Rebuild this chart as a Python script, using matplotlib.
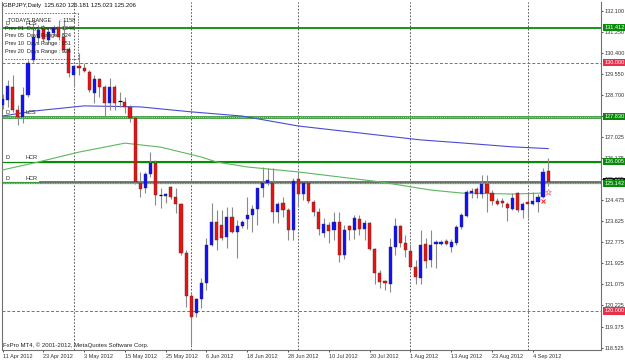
import numpy as np
import matplotlib.pyplot as plt
from matplotlib.transforms import blended_transform_factory

plt.rcParams['font.family'] = ['Liberation Sans', 'DejaVu Sans']

# ---- data (GBPJPY daily, 11 Apr 2012 .. 7 Sep 2012) ----
date_idx = [0, 8, 16, 24, 32, 40, 48, 56, 64, 72, 80, 88, 96, 104]
date_labels = ['11 Apr 2012', '23 Apr 2012', '3 May 2012', '15 May 2012', '25 May 2012',
               '6 Jun 2012', '18 Jun 2012', '28 Jun 2012', '10 Jul 2012', '20 Jul 2012',
               '1 Aug 2012', '13 Aug 2012', '23 Aug 2012', '4 Sep 2012']
month_idx = [14, 37, 58, 80, 103]

opens = [128.30, 128.50, 129.02, 128.09, 127.81, 128.70, 130.11, 130.99, 131.36, 130.91,
         131.20, 131.44, 131.03, 130.55, 129.50, 129.87, 129.79, 129.63, 128.78, 129.34,
         129.02, 128.38, 129.02, 128.47, 128.42, 128.22, 127.77, 125.16, 124.95, 125.52,
         125.96, 124.67, 124.65, 124.99, 124.59, 124.31, 122.34, 120.60, 119.92, 120.48,
         121.11, 122.66, 123.60, 123.46, 122.97, 123.77, 123.19, 123.42, 123.70, 123.87,
         124.10, 124.94, 125.14, 125.17, 123.99, 124.35, 124.05, 123.26, 125.30, 124.71,
         125.14, 124.40, 123.99, 123.15, 123.46, 123.26, 123.60, 122.26, 123.42, 123.26,
         123.70, 123.29, 123.53, 122.49, 121.52, 121.22, 121.09, 122.59, 123.42, 122.75,
         122.42, 121.78, 121.32, 122.69, 122.05, 122.69, 122.70, 122.82, 122.56, 122.73,
         123.37, 123.83, 124.76, 124.91, 124.71, 125.11, 124.76, 124.44, 124.44, 124.31,
         124.10, 124.74, 124.07, 124.38, 124.31, 124.38, 124.60, 125.620]
highs = [128.75, 129.30, 129.50, 128.30, 129.02, 130.11, 131.60, 131.52, 131.52, 131.40,
         131.52, 131.72, 131.72, 130.63, 129.91, 130.39, 129.99, 129.71, 129.50, 129.38,
         129.10, 129.38, 129.10, 128.82, 128.62, 128.30, 127.85, 125.60, 125.60, 126.40,
         126.08, 124.95, 124.75, 125.03, 124.95, 124.35, 122.46, 120.77, 120.52, 121.33,
         122.94, 124.34, 124.07, 124.07, 124.20, 124.20, 123.66, 123.66, 124.60, 124.27,
         124.96, 125.81, 125.75, 125.75, 124.40, 124.59, 124.15, 125.36, 125.56, 125.20,
         125.20, 124.47, 124.15, 123.75, 123.60, 124.00, 124.00, 123.46, 123.46, 123.87,
         123.87, 123.66, 123.60, 122.54, 121.65, 121.25, 122.94, 123.75, 123.46, 123.06,
         122.70, 122.05, 123.26, 122.93, 123.26, 122.86, 122.86, 122.89, 122.90, 123.46,
         123.93, 124.87, 124.94, 125.01, 125.48, 125.48, 124.87, 124.55, 124.54, 124.40,
         124.74, 124.80, 124.40, 124.74, 124.80, 124.71, 125.75, 126.181]
lows = [128.15, 128.22, 128.01, 127.49, 127.57, 128.62, 130.03, 130.83, 130.83, 130.83,
        131.12, 130.91, 130.43, 129.43, 129.02, 129.50, 129.63, 128.82, 128.38, 128.62,
        127.77, 128.09, 128.09, 128.22, 127.97, 127.61, 125.12, 124.59, 124.75, 125.40,
        124.27, 124.15, 124.35, 124.51, 123.95, 122.26, 120.16, 118.63, 119.76, 120.12,
        120.85, 122.62, 122.46, 122.86, 122.53, 123.13, 122.12, 123.33, 123.29, 123.19,
        123.46, 124.60, 125.07, 123.53, 123.53, 123.79, 122.86, 122.86, 124.19, 124.47,
        124.35, 123.83, 123.06, 122.98, 122.74, 122.86, 121.99, 122.09, 122.86, 122.90,
        123.06, 122.86, 122.46, 121.09, 120.93, 120.85, 120.78, 122.26, 122.59, 122.19,
        121.74, 121.09, 121.09, 121.72, 121.78, 121.74, 122.66, 122.66, 122.37, 122.66,
        123.29, 123.80, 124.54, 124.54, 124.54, 123.99, 124.27, 124.27, 124.20, 123.64,
        124.07, 124.00, 123.73, 123.73, 124.27, 123.99, 124.54, 125.023]
closes = [128.55, 129.06, 128.09, 127.81, 128.70, 129.99, 131.03, 131.32, 130.95, 131.24,
          131.40, 131.03, 130.51, 129.59, 129.87, 129.79, 129.67, 128.90, 129.34, 129.02,
          128.38, 129.02, 128.38, 128.46, 128.22, 127.77, 125.20, 124.91, 125.52, 125.96,
          124.67, 124.66, 124.71, 124.59, 124.31, 122.34, 120.60, 119.76, 120.48, 121.11,
          122.66, 123.60, 122.86, 122.93, 123.77, 123.19, 123.42, 123.60, 123.87, 124.10,
          124.94, 125.14, 125.27, 123.99, 124.31, 124.05, 123.26, 125.24, 124.71, 125.14,
          124.44, 123.99, 123.29, 123.49, 123.23, 123.60, 122.26, 123.26, 123.26, 123.73,
          123.29, 123.53, 122.49, 121.52, 121.18, 121.11, 122.59, 123.44, 122.75, 122.46,
          121.78, 121.36, 122.66, 122.03, 122.66, 122.79, 122.79, 122.70, 122.79, 123.37,
          123.87, 124.78, 124.84, 124.70, 125.11, 124.76, 124.43, 124.31, 124.34, 124.16,
          124.54, 124.07, 124.31, 124.31, 124.43, 124.58, 125.61, 125.206]

ma_blue_idx = [0, 6, 16, 27, 37, 47, 58, 70, 82, 90, 100, 107]
ma_blue = [127.85, 128.05, 128.26, 128.22, 128.02, 127.85, 127.45, 127.17, 126.89, 126.77, 126.61, 126.54]
ma_green_idx = [0, 7, 15, 24, 31, 39, 42, 48, 58, 74, 84, 90, 100, 106]
ma_green = [125.68, 126.00, 126.40, 126.76, 126.60, 126.20, 126.00, 125.80, 125.60, 125.20,
            124.87, 124.75, 124.71, 124.75]

price_ticks = [132.100, 131.250, 130.400, 129.550, 128.700, 127.850, 127.025, 126.175, 125.325,
               124.475, 123.625, 122.775, 121.925, 121.075, 120.225, 119.375, 118.525]
price_tick_labels = ['%.3f' % p for p in price_ticks]

level_hcs = 131.412
level_lcs = 127.830
level_hcr1 = 126.005
level_hcr2 = 125.142
round_levels = [130.000, 120.000]
bid = 125.206

title = 'GBPJPY,Daily  125.620 126.181 125.023 125.206'
range_lines = ['TODAYS RANGE      : 1158',
               'Prev 01  Days Range : 1248',
               'Prev 05  Days Range : 824',
               'Prev 10  Days Range : 951',
               'Prev 20  Days Range : 924']

# ---- figure ----
W, H = 625, 361
fig = plt.figure(figsize=(W / 100, H / 100), dpi=100)
ax = fig.add_axes([2 / W, (H - 350) / H, 598.7 / W, 348 / H])
ax.set_xlim(-0.1, 117.3)
ax.set_ylim(118.429, 132.444)

o = np.array(opens); h = np.array(highs); l = np.array(lows); c = np.array(closes)
idx = np.arange(len(o))

# month grid
for m in month_idx:
    ax.axvline(m, color='#404040', lw=0.6, ls=(0, (2, 2)), zorder=1)

# levels
ax.axhline(level_hcs, color='#0a8a0a', lw=1.3, zorder=2)
ax.axhline(level_lcs, color='#3a9a3a', lw=2.0, zorder=2)
ax.axhline(level_lcs, color='#a8e6a8', lw=0.7, ls=(0, (1, 1)), zorder=2)
ax.axhline(level_hcr1, color='#0a8a0a', lw=0.9, zorder=2)
ax.plot([7.4, 117.3], [level_hcr1, level_hcr1], color='#0a8a0a', lw=1.5, zorder=2)
ax.axhline(level_hcr2, color='#3a9a3a', lw=1.6, zorder=2)
ax.plot([7.4, 117.3], [bid, bid], color='#6e6e6e', lw=1.3, zorder=2)
ax.axhline(level_hcr2, color='#a8e6a8', lw=0.6, ls=(0, (1, 1)), zorder=2)
for r in round_levels:
    ax.axhline(r, color='#e8404f', lw=0.7, ls=(0, (3, 2)), zorder=2)

# moving averages
ax.plot(ma_blue_idx, ma_blue, color='#4a4ad8', lw=0.8, zorder=3)
ax.plot(ma_green_idx, ma_green, color='#5cb85c', lw=0.8, zorder=3)

# candles
ax.vlines(idx, l, h, color='#8a8a8a', lw=0.8, zorder=4)
doji = np.abs(c - o) < 0.03
up = (c >= o) & ~doji
dn = (c < o) & ~doji
ax.bar(idx[up], (c - o)[up], bottom=o[up], width=0.62, color='#1010ff',
       edgecolor='#303050', lw=0.3, zorder=5)
ax.bar(idx[dn], (o - c)[dn], bottom=c[dn], width=0.62, color='#ee1111',
       edgecolor='#503030', lw=0.3, zorder=5)
ax.hlines(o[doji], idx[doji] - 0.35, idx[doji] + 0.35, color='black', lw=0.9, zorder=5)

# small signal marks near the last bars
ax.plot([107], [124.79], marker='*', ms=4.5, mfc='none', mec='#ff7a8a', mew=0.6, zorder=6)
ax.plot([106], [124.44], marker='x', ms=2.5, color='#ff2020', mew=0.7, zorder=6)

# line captions
fs = 4.0
for lev, name in [(level_hcs, 'HCS'), (level_lcs, 'LCS'), (level_hcr1, 'HCR'), (level_hcr2, 'HCR')]:
    ax.text(0.5, lev + 0.08, 'D', fontsize=fs, color='#222222', va='bottom', zorder=7)
    ax.text(4.6, lev + 0.08, name, fontsize=fs, color='#222222', va='bottom', zorder=7)

# axes styling
for s in ax.spines.values():
    s.set_color('#707070')
    s.set_linewidth(0.8)
ax.spines['top'].set_visible(False)
ax.yaxis.tick_right()
ax.set_yticks(price_ticks)
ax.set_yticklabels(price_tick_labels)
ax.set_xticks(date_idx)
ax.set_xticklabels(date_labels, ha='left')
ax.tick_params(axis='both', labelsize=fs, colors='#333333', length=1.6, width=0.6, pad=1.2)
ax.tick_params(axis='x', pad=1.5)

# colored price boxes on the right scale
trans = blended_transform_factory(ax.transAxes, ax.transData)
boxes = [(level_hcs, '#0a8a0a'), (130.000, '#e8304a'), (level_lcs, '#0a8a0a'),
         (level_hcr1, '#0a8a0a'), (bid, '#111111'), (level_hcr2, '#0a8a0a'), (120.000, '#e8304a')]
for val, col in boxes:
    ax.annotate('%.3f' % val, xy=(1, val), xycoords=trans, xytext=(2.6, 0),
                textcoords='offset points', fontsize=fs, color='white', va='center', ha='left',
                bbox=dict(boxstyle='square,pad=0.2', fc=col, ec='none'),
                annotation_clip=False, zorder=20)

# top-left texts
fig.text(3 / W, 1 - 5.5 / H, title, fontsize=4.3, color='#111111', va='center', ha='left')
ys = [20, 28.3, 36, 43.5, 51]
xs = [8, 5, 5, 5, 5]
for t, y, x in zip(range_lines, ys, xs):
    fig.text(x / W, 1 - y / H, t, fontsize=fs, color='#222222', va='center', ha='left', zorder=30)
box_x = [4.5, 78]
for yy in [13.3, 59.3]:
    fig.add_artist(plt.Line2D([box_x[0] / W, box_x[1] / W], [1 - yy / H, 1 - yy / H],
                              color='#333333', lw=0.5, ls=(0, (2, 2))))
fig.add_artist(plt.Line2D([78 / W, 78 / W], [1 - 13.3 / H, 1 - 59.3 / H],
                          color='#333333', lw=0.5, ls=(0, (2, 2))))

fig.text(3 / W, 1 - 345 / H, 'FxPro MT4, \u00a9 2001-2012, MetaQuotes Software Corp.',
         fontsize=4.3, color='#222222', va='center', ha='left')

fig.savefig('out.png', dpi=100, facecolor='white')
